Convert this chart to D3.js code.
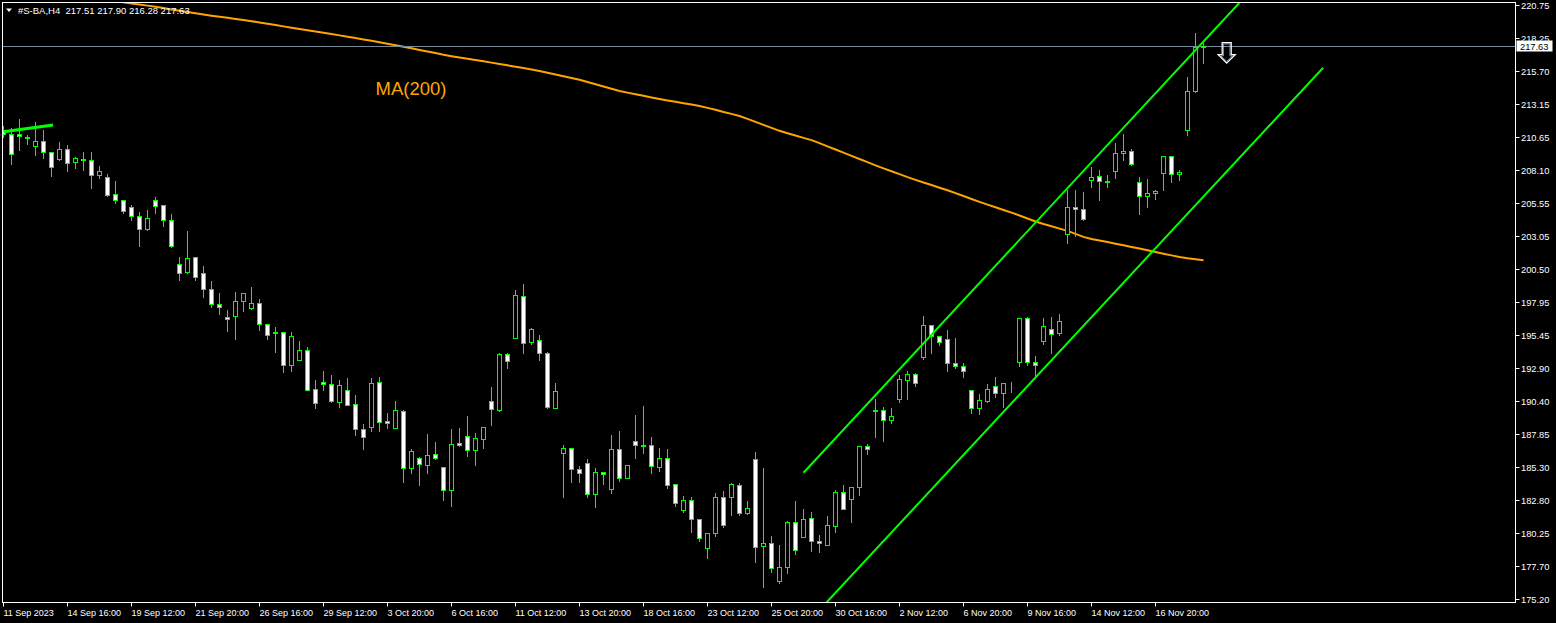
<!DOCTYPE html>
<html><head><meta charset="utf-8">
<script src="https://cdn.jsdelivr.net/npm/d3@7"></script>
<style>html,body{margin:0;padding:0;background:#000;overflow:hidden}svg{display:block}text{font-family:"Liberation Sans",Arial,sans-serif}</style>
</head><body><svg id="c" width="1556" height="623"></svg>
<script>
const symbol = "#S-BA", timeframe = "H4";
const opens = [211.20,210.87,210.87,210.60,209.94,210.33,209.48,208.92,209.71,208.69,208.97,208.87,207.69,207.57,206.28,205.82,205.26,204.57,203.54,205.82,205.42,204.27,200.91,200.24,201.45,200.20,198.97,197.82,196.82,196.87,198.02,197.48,197.90,196.28,195.69,195.69,193.18,193.49,194.29,191.30,191.83,191.68,190.34,191.22,190.14,188.23,188.42,191.83,188.86,188.35,189.61,185.28,186.00,185.51,186.31,185.31,183.54,187.17,187.69,186.61,187.50,190.37,189.68,193.98,195.18,198.43,194.90,195.06,194.06,189.88,186.38,186.77,185.16,185.62,183.24,184.93,183.62,186.69,184.51,187.30,187.00,187.00,185.31,186.00,184.00,182.01,182.78,181.32,179.09,180.24,183.01,183.01,183.93,181.82,185.92,179.25,179.48,176.61,177.63,181.09,179.94,181.39,179.63,179.37,180.83,183.39,182.90,183.77,186.94,189.71,189.71,188.89,190.57,192.01,192.47,193.72,196.23,195.39,195.13,193.31,193.06,191.24,189.88,190.42,191.55,191.03,191.70,193.34,196.74,193.39,194.95,195.90,195.56,203.21,205.26,205.11,207.30,207.64,207.28,208.03,209.41,209.56,207.18,206.11,206.34,207.84,209.20,207.76,211.17,214.17,217.51];
const highs = [211.58,211.40,212.12,210.89,211.89,211.27,209.48,210.35,210.12,209.15,209.58,209.58,208.51,207.90,207.36,205.82,205.52,204.98,205.13,206.13,205.44,204.83,201.53,203.52,201.47,200.84,199.68,198.76,197.46,198.84,198.76,199.22,198.30,196.28,196.15,195.77,195.77,195.08,194.62,192.09,192.78,192.47,192.09,192.24,190.91,188.69,192.19,192.32,189.55,190.47,189.78,186.77,186.18,187.94,187.33,185.31,188.33,188.40,189.32,187.99,188.38,191.55,194.13,194.13,198.99,199.45,196.05,195.54,194.18,191.86,187.10,186.77,185.49,186.00,185.31,184.95,187.86,188.17,185.56,189.40,190.09,187.71,186.87,186.77,184.13,183.16,183.08,181.39,180.34,183.39,183.57,184.16,184.18,182.78,186.56,185.36,180.09,179.42,181.26,182.80,182.16,181.96,180.17,181.65,183.64,184.03,183.87,187.02,187.20,190.65,190.01,189.94,192.47,192.78,192.62,197.00,196.31,195.39,195.90,195.31,193.39,191.24,190.99,191.80,192.32,191.80,191.95,196.82,196.92,193.93,196.82,196.92,197.13,206.64,206.64,206.49,208.43,208.20,207.82,210.25,210.94,209.81,207.67,207.51,206.64,209.28,209.22,208.18,215.29,218.69,217.90];
const lows = [210.66,208.53,209.61,210.07,209.22,208.99,207.61,208.84,207.99,208.23,208.07,206.74,207.46,206.08,205.54,204.83,204.23,202.24,203.47,204.83,203.77,202.16,199.63,200.20,199.63,198.33,197.56,197.02,195.72,195.10,197.25,197.46,195.85,195.16,194.16,192.57,192.70,193.49,191.19,189.81,191.19,190.34,189.96,190.04,187.79,186.71,188.09,188.09,188.33,188.35,184.18,184.87,183.95,184.89,185.95,182.80,182.36,186.97,186.20,185.51,186.81,188.58,189.65,192.88,195.18,194.10,194.75,193.49,189.81,189.88,183.05,184.20,184.20,183.05,182.29,184.03,183.36,184.28,184.51,186.02,186.43,184.89,185.05,183.74,182.36,181.90,180.32,179.68,178.32,180.06,180.75,181.67,181.67,181.75,178.06,176.10,177.30,176.45,177.22,178.63,179.94,178.91,178.83,179.37,180.37,182.09,181.13,183.18,186.33,187.66,187.35,188.73,190.27,190.55,191.55,193.60,194.10,194.64,192.72,192.95,192.26,189.45,189.40,190.34,190.70,189.94,191.09,193.06,193.11,192.24,194.79,194.06,195.44,202.50,203.06,204.23,206.80,205.77,206.77,207.46,208.89,208.46,204.70,205.23,205.85,206.59,207.20,207.30,210.81,214.06,216.28];
const closes = [210.89,209.30,210.68,210.57,210.33,209.45,208.33,209.71,208.64,209.02,208.84,207.72,208.05,206.15,205.77,204.93,204.54,203.54,204.42,205.31,204.27,202.24,200.20,201.37,199.89,198.97,197.82,197.56,196.64,198.05,198.69,197.92,196.25,195.41,195.56,193.18,195.36,194.29,191.26,190.22,191.65,190.42,191.60,190.11,188.27,187.66,191.76,188.81,188.73,189.68,185.28,186.54,185.54,186.23,186.05,183.54,187.10,187.04,186.61,187.53,188.38,189.76,193.98,193.44,198.51,194.83,195.90,194.06,189.91,191.14,186.77,185.16,184.85,183.24,184.93,184.77,186.69,184.51,185.46,187.00,186.97,185.43,186.00,183.97,182.55,182.78,181.32,179.86,180.24,183.01,180.86,184.00,181.82,182.16,179.17,179.48,177.56,177.63,181.09,178.94,181.32,179.63,179.52,180.86,183.39,182.13,183.77,186.94,186.69,189.61,188.89,189.25,192.09,192.47,191.80,196.23,195.39,194.87,193.29,193.06,192.72,189.88,190.47,191.32,191.03,191.76,191.65,196.74,193.34,193.11,196.13,195.49,196.54,205.26,205.11,204.34,207.57,207.23,207.15,209.41,209.56,208.53,206.11,206.34,206.49,209.20,207.80,207.95,214.17,217.54,217.63];
const maStart = 13;
const ma200 = [221.21,221.07,220.99,220.90,220.82,220.74,220.65,220.55,220.45,220.35,220.25,220.16,220.06,219.97,219.89,219.81,219.72,219.63,219.55,219.45,219.35,219.25,219.15,219.05,218.95,218.85,218.76,218.66,218.56,218.46,218.36,218.26,218.15,218.04,217.93,217.82,217.70,217.59,217.47,217.34,217.22,217.10,216.97,216.86,216.76,216.66,216.57,216.47,216.37,216.27,216.16,216.05,215.95,215.84,215.73,215.60,215.46,215.32,215.19,215.05,214.88,214.71,214.54,214.37,214.20,214.07,213.95,213.83,213.70,213.58,213.47,213.37,213.26,213.15,213.04,212.90,212.75,212.59,212.44,212.28,212.06,211.83,211.60,211.37,211.14,210.96,210.78,210.60,210.43,210.20,209.95,209.71,209.47,209.22,208.98,208.74,208.49,208.26,208.04,207.82,207.59,207.38,207.18,206.98,206.78,206.58,206.36,206.14,205.91,205.69,205.48,205.28,205.07,204.87,204.65,204.42,204.19,203.99,203.82,203.64,203.47,203.24,203.01,202.84,202.73,202.61,202.48,202.36,202.23,202.11,201.98,201.85,201.72,201.59,201.46,201.37,201.30,201.22];
const xTickLabels = ["11 Sep 2023","14 Sep 16:00","19 Sep 12:00","21 Sep 20:00","26 Sep 16:00","29 Sep 12:00","3 Oct 20:00","6 Oct 16:00","11 Oct 12:00","13 Oct 20:00","18 Oct 16:00","23 Oct 12:00","25 Oct 20:00","30 Oct 16:00","2 Nov 12:00","6 Nov 20:00","9 Nov 16:00","14 Nov 12:00","16 Nov 20:00"];
const xTickEvery = 8;
const yTickValues = [220.75,218.25,215.70,213.15,210.65,208.10,205.55,203.05,200.50,197.95,195.45,192.90,190.40,187.85,185.30,182.80,180.25,177.70,175.20];
const channelUpper = [[100,184.92],[154.46,220.94]];
const channelLower = [[102.9,174.99],[164.96,215.98]];
const shortTrend = [[0,211.07],[6.2,211.58]];
const maLabel = {text:"MA(200)", bar:46.5, price:213.88};
const arrowMark = {bar:152.9, price:217.90};

const svg = d3.select("#c");
const W = 1556, H = 623;
const plot = {l:2.5, t:2.5, r:1515.5, b:602.5};
svg.append("rect").attr("width",W).attr("height",H).attr("fill","#000");

const n = closes.length;
const x = d3.scaleLinear().domain([0, n-1]).range([3.5, 3.5 + 8*(n-1)]);
const y = d3.scaleLinear().domain([175.20, 220.75]).range([599.5, 5.5]);
const snap = v => Math.round(v - 0.5) + 0.5;

svg.append("defs").append("clipPath").attr("id","clip")
  .append("rect").attr("x",plot.l+0.5).attr("y",plot.t+0.5).attr("width",plot.r-plot.l-1).attr("height",plot.b-plot.t-1);
const g = svg.append("g").attr("clip-path","url(#clip)");

// MA line
const maData = ma200.map((v,i)=>[maStart+i, v]);
g.append("path").datum(maData)
  .attr("d", d3.line().x(d=>x(d[0])).y(d=>y(d[1])))
  .attr("fill","none").attr("stroke","#FFA500").attr("stroke-width",2);

// current price line
const last = n-1;
g.append("line").attr("x1",plot.l).attr("x2",plot.r)
  .attr("y1",snap(y(closes[last]))).attr("y2",snap(y(closes[last])))
  .attr("stroke","#778899").attr("stroke-width",1);

// candles
const idx = d3.range(n);
const cg = g.append("g");
cg.selectAll("line.w").data(idx).join("line").attr("class","w")
  .attr("x1",i=>x(i)).attr("x2",i=>x(i))
  .attr("y1",i=>snap(y(highs[i]))).attr("y2",i=>snap(y(lows[i]))+0.5)
  .attr("stroke","#00ff00").attr("stroke-width",1).attr("shape-rendering","crispEdges");
cg.selectAll("rect.b").data(idx).join("rect").attr("class","b")
  .attr("x",i=>x(i)-2).attr("width",4)
  .attr("y",i=>snap(y(Math.max(opens[i],closes[i]))))
  .attr("height",i=>Math.max(0, snap(y(Math.min(opens[i],closes[i]))) - snap(y(Math.max(opens[i],closes[i])))))
  .attr("fill",i=>closes[i]>opens[i] ? "#000" : "#fff")
  .attr("stroke","#00ff00").attr("stroke-width",1).attr("shape-rendering","crispEdges");

// trend channel lines
const lineGen = d3.line().x(d=>x(d[0])).y(d=>y(d[1]));
g.append("path").datum(channelUpper).attr("d",lineGen).attr("stroke","#00ff00").attr("stroke-width",2).attr("fill","none");
g.append("path").datum(channelLower).attr("d",lineGen).attr("stroke","#00ff00").attr("stroke-width",2).attr("fill","none");
g.append("path").datum(shortTrend).attr("d",lineGen).attr("stroke","#00ff00").attr("stroke-width",3).attr("fill","none");

// MA label
g.append("text").attr("x",x(maLabel.bar)).attr("y",y(maLabel.price))
  .attr("fill","#FFA500").attr("font-size","18.5px").text(maLabel.text);

// arrow
const ax = x(arrowMark.bar), ay = y(arrowMark.price);
const arrowPath = "M-4.5,0H4.5V12H8.5L0,20.5L-8.5,12H-4.5Z";
svg.append("path").attr("d",arrowPath).attr("transform",`translate(${ax},${ay})`)
  .attr("fill","none").attr("stroke","#ffffff").attr("stroke-width",1.3);
svg.append("path").attr("d","M-3.3,1.2H3.3V13.2H5.8L0,18.8L-5.8,13.2H-3.3Z").attr("transform",`translate(${ax},${ay})`)
  .attr("fill","none").attr("stroke","#9cc4ee").attr("stroke-width",0.8);

// frame
svg.append("rect").attr("x",plot.l).attr("y",plot.t).attr("width",plot.r-plot.l).attr("height",plot.b-plot.t)
  .attr("fill","none").attr("stroke","#fff").attr("stroke-width",1);

// y axis
const yAxis = svg.append("g");
yTickValues.forEach(v=>{
  const yy = snap(y(v));
  yAxis.append("line").attr("x1",plot.r).attr("x2",plot.r+4).attr("y1",yy).attr("y2",yy).attr("stroke","#fff");
  yAxis.append("text").attr("x",1521).attr("y",yy).attr("dy","0.35em").attr("fill","#fff").attr("font-size","9.3px").text(v.toFixed(2));
});
// price label
const py = snap(y(closes[last]));
svg.append("rect").attr("x",1516.5).attr("y",py-6).attr("width",36).attr("height",11).attr("fill","#fff");
svg.append("text").attr("x",1520).attr("y",py).attr("dy","0.35em").attr("fill","#000").attr("font-size","9.3px").text(closes[last].toFixed(2));

// x axis
const xAxis = svg.append("g");
xTickLabels.forEach((lab,k)=>{
  const xx = x(k*xTickEvery);
  xAxis.append("line").attr("x1",xx).attr("x2",xx).attr("y1",plot.b).attr("y2",plot.b+4).attr("stroke","#fff");
  xAxis.append("text").attr("x",xx).attr("y",616).attr("fill","#fff").attr("font-size","9px").text(lab);
});

// header
svg.append("path").attr("d","M6,8.5H12L9,12Z").attr("fill","#fff");
svg.append("text").attr("x",18).attr("y",14).attr("fill","#fff").attr("font-size","9.5px")
  .attr("xml:space","preserve").style("white-space","pre")
  .text(`${symbol},${timeframe}  ${opens[last].toFixed(2)} ${highs[last].toFixed(2)} ${lows[last].toFixed(2)} ${closes[last].toFixed(2)}`);
</script></body></html>
